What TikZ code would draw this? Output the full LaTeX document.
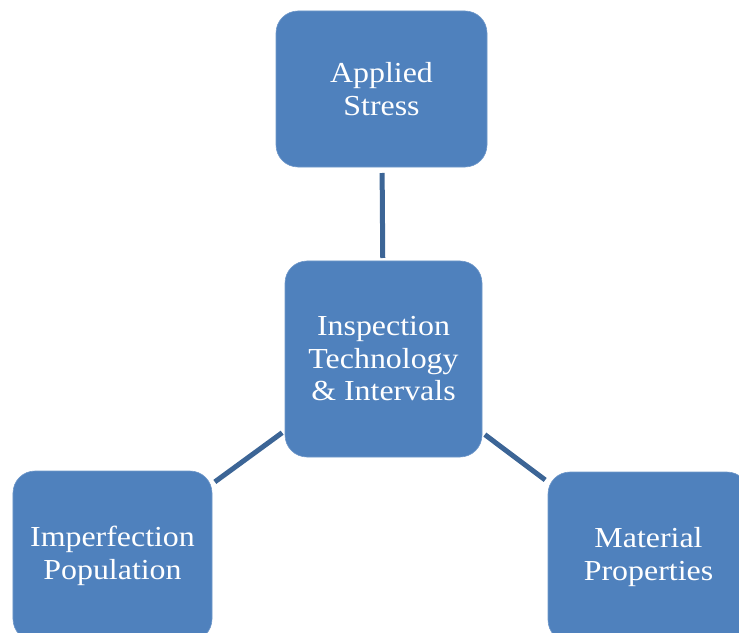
\documentclass[tikz,border=0pt]{standalone}
\usepackage{fontspec}
\newfontfamily\boxfont{Liberation Serif}[FakeStretch=1.1]
\definecolor{boxblue}{HTML}{4F81BD}
\definecolor{boxedge}{HTML}{6F98C9}
\definecolor{linkblue}{HTML}{3C6596}
\begin{document}
\begin{tikzpicture}[x=1bp,y=-1bp,
  box/.style={rectangle, rounded corners=22bp, fill=boxblue, draw=boxedge, line width=0.6bp,
    inner sep=0pt, outer sep=0pt, text=white, align=center,
    font=\boxfont\fontsize{29bp}{32.5bp}\selectfont},
  link/.style={draw=linkblue, line width=5bp, shorten <=3.5bp, shorten >=3.5bp}]
\clip (0,0) rectangle (739,633);
\node[box, minimum width=211bp, minimum height=156bp] (stress) at (381.5,89) {Applied\\Stress};
\node[box, minimum width=197bp, minimum height=196bp] (insp) at (383.5,359) {Inspection\\Technology\\\& Intervals};
\node[box, minimum width=199bp, minimum height=170bp] (imp) at (112.5,556) {Imperfection\\Population};
\node[box, minimum width=201bp, minimum height=170bp] (mat) at (648.5,557) {Material\\Properties};
\draw[link, shorten <=3bp, shorten >=6bp] (insp) -- (stress);
\draw[link] (insp) -- (imp);
\draw[link] (insp) -- (mat);
\end{tikzpicture}
\end{document}
